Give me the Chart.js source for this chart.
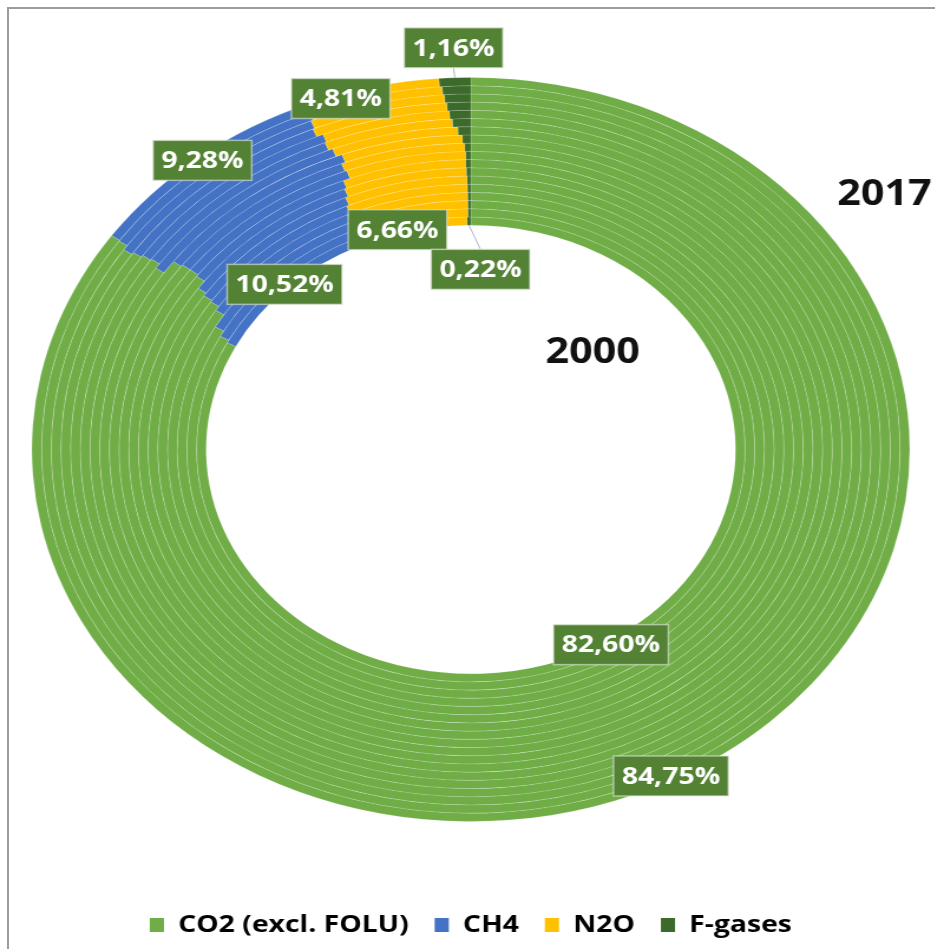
<!DOCTYPE html>
<html>
<head>
<meta charset="utf-8">
<script src="https://cdn.jsdelivr.net/npm/chart.js@4.4.0/dist/chart.umd.min.js"></script>
<style>
  html, body { margin: 0; padding: 0; background: #fff; }
  #wrap { position: relative; width: 935px; height: 949px; overflow: hidden; }
  #frame {
    position: absolute; left: 7px; top: 7px; right: -10px; bottom: -10px;
    border-left: 2px solid #9c9c9c; border-top: 2px solid #9c9c9c;
  }
  /* the chart is drawn round and widened afterwards */
  #gasChart { position: absolute; left: 0; top: 0; transform: scaleX(1.18); transform-origin: 0 0; }
</style>
</head>
<body>
<div id="wrap">
  <div id="frame"></div>
  <canvas id="gasChart" width="792" height="949"></canvas>
</div>
<script>
// share of total emissions per gas, %, one ring per year (2000 inside, 2017 outside)
const years  = [2000, 2001, 2002, 2003, 2004, 2005, 2006, 2007, 2008, 2009,
                2010, 2011, 2012, 2013, 2014, 2015, 2016, 2017];
const gases  = ['CO2 (excl. FOLU)', 'CH4', 'N2O', 'F-gases'];
const co2    = [82.60, 82.80, 83.20, 84.10, 84.40, 84.50, 84.70, 85.20, 85.30, 85.30,
                85.20, 84.50, 84.76, 84.70, 84.60, 84.50, 84.72, 84.75];
const ch4    = [10.52, 10.30, 9.95, 9.23, 9.11, 9.15, 9.10, 8.72, 8.96, 8.88,
                9.16, 9.59, 9.15, 9.28, 9.11, 9.28, 9.14, 9.28];
const n2o    = [6.66, 6.74, 6.69, 6.51, 6.32, 6.17, 5.99, 5.84, 5.51, 5.55,
                5.28, 5.37, 5.34, 5.17, 5.36, 5.22, 5.08, 4.81];
const fgases = [0.22, 0.16, 0.16, 0.16, 0.17, 0.18, 0.21, 0.24, 0.23, 0.27,
                0.36, 0.54, 0.75, 0.85, 0.93, 1.00, 1.06, 1.16];

const gasColors = ['#70AD47', '#4472C4', '#FFC000', '#3B6A2A'];
const FONT = '"Open Sans", "DejaVu Sans", sans-serif';

// outermost ring first
const datasets = [];
for (let i = years.length - 1; i >= 0; i--) {
  datasets.push({
    label: String(years[i]),
    data: [co2[i], ch4[i], n2o[i], fgases[i]],
    backgroundColor: gasColors,
    borderColor: 'rgba(255,255,255,0.16)',
    borderWidth: 1
  });
}

const pct = v => v.toFixed(2).replace('.', ',') + '%';

// value boxes on the outer (2017) and inner (2000) rings
const sliceLabels = {
  id: 'sliceLabels',
  afterDatasetsDraw(chart, args, opts) {
    const ctx = chart.ctx;
    const last = chart.data.datasets.length - 1;
    ctx.save();
    ctx.font = 'bold 24px ' + FONT;
    ctx.textAlign = 'center';
    ctx.textBaseline = 'middle';
    [0, last].forEach(di => {
      const values = chart.data.datasets[di].data;
      chart.getDatasetMeta(di).data.forEach((arc, i) => {
        const p = arc.getProps(['x', 'y', 'startAngle', 'endAngle', 'innerRadius', 'outerRadius'], true);
        const mid0 = (p.startAngle + p.endAngle) / 2;
        const mid = mid0 + (opts.shift[di + '-' + i] || 0) * Math.PI / 180;
        const small = values[i] < 2;
        let r = (p.innerRadius + p.outerRadius) / 2;
        if (small) r = di === 0 ? p.outerRadius + 30 : p.innerRadius - 44;
        const lx = p.x + Math.cos(mid) * r;
        const ly = p.y + Math.sin(mid) * r;
        const text = pct(values[i]);
        const w = ctx.measureText(text).width + 14;
        const h = 40;
        if (small) {
          const edge = di === 0 ? p.outerRadius : p.innerRadius;
          ctx.strokeStyle = '#a9b7d0';
          ctx.lineWidth = 1;
          ctx.beginPath();
          ctx.moveTo(p.x + Math.cos(mid0) * edge, p.y + Math.sin(mid0) * edge);
          ctx.lineTo(lx, di === 0 ? ly + h / 2 : ly - h / 2);
          ctx.stroke();
        }
        ctx.fillStyle = '#548235';
        ctx.fillRect(lx - w / 2, ly - h / 2, w, h);
        ctx.strokeStyle = 'rgba(225,232,220,0.6)';
        ctx.lineWidth = 1.5;
        ctx.strokeRect(lx - w / 2, ly - h / 2, w, h);
        ctx.fillStyle = '#ffffff';
        ctx.fillText(text, lx, ly + 1);
      });
    });
    ctx.restore();
  }
};

// year captions for the outer and inner rings
const ringYears = {
  id: 'ringYears',
  afterDraw(chart) {
    const ctx = chart.ctx;
    const ds = chart.data.datasets;
    const outer = chart.getDatasetMeta(0).data[0];
    const inner = chart.getDatasetMeta(ds.length - 1).data[0];
    const put = (text, deg, r) => {
      const a = deg * Math.PI / 180;
      ctx.fillText(text, outer.x + Math.sin(a) * r, outer.y - Math.cos(a) * r);
    };
    ctx.save();
    ctx.font = 'bold 35px ' + FONT;
    ctx.fillStyle = '#111';
    ctx.textAlign = 'center';
    ctx.textBaseline = 'middle';
    put(ds[0].label, 54, outer.outerRadius * 1.165);
    put(ds[ds.length - 1].label, 47, inner.innerRadius * 0.63);
    ctx.restore();
  }
};

new Chart(document.getElementById('gasChart'), {
  type: 'doughnut',
  data: { labels: gases, datasets: datasets },
  plugins: [sliceLabels, ringYears],
  options: {
    responsive: false,
    animation: false,
    events: [],
    radius: 372,
    cutout: '60.3%',
    layout: { padding: { left: 6, right: 0, top: 8, bottom: 2 } },
    plugins: {
      tooltip: { enabled: false },
      sliceLabels: { shift: { '0-2': -4.6, '17-2': -3, '17-3': 3 } },
      legend: {
        position: 'bottom',
        labels: {
          boxWidth: 12,
          boxHeight: 14,
          padding: 22,
          color: '#111',
          font: { family: FONT, size: 24, weight: 'bold' },
          generateLabels(chart) {
            return chart.data.labels.map((t, i) => ({
              text: t,
              fillStyle: gasColors[i],
              strokeStyle: gasColors[i],
              lineWidth: 0,
              index: i
            }));
          }
        }
      }
    }
  }
});
</script>
</body>
</html>
